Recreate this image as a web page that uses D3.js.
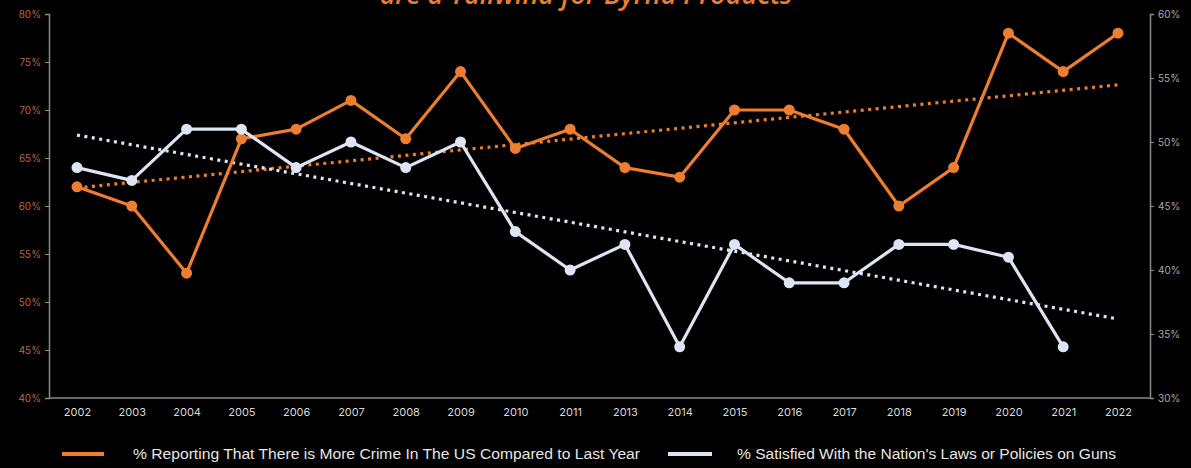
<!DOCTYPE html>
<html><head><meta charset="utf-8">
<script src="https://cdn.jsdelivr.net/npm/d3@7"></script>
<style>
html,body{margin:0;padding:0;background:#000;}
svg{display:block;}
</style></head>
<body>
<svg id="chart" width="1191" height="468"></svg>
<script>
const years = ["2002","2003","2004","2005","2006","2007","2008","2009","2010","2011","2013","2014","2015","2016","2017","2018","2019","2020","2021","2022"];
const crimeMore = [62,60,53,67,68,71,67,74,66,68,64,63,70,70,68,60,64,78,74,78];
const gunSatisfied = [48,47,51,51,48,50,48,50,43,40,42,34,42,39,39,42,42,41,34,null];
const leftTicks = [40,45,50,55,60,65,70,75,80];
const rightTicks = [30,35,40,45,50,55,60];
const titleText = "are a Tailwind for Byrna Products";
const legendCrime = "% Reporting That There is More Crime In The US Compared to Last Year";
const legendGuns = "% Satisfied With the Nation's Laws or Policies on Guns";

const ORANGE = "#ed7d31", WHITE = "#dde4f4";
const svg = d3.select("#chart");
const L = 49, R = 1150, T = 14, B = 398;

const x = d3.scalePoint().domain(years).range([77, 1118]);
const yL = d3.scaleLinear().domain([40,80]).range([B,T]);
const yR = d3.scaleLinear().domain([30,60]).range([B,T]);

// title (clipped at top, as in the reference)
svg.append("text").attr("x", 586).attr("y", 4).attr("text-anchor","middle")
  .attr("font-family","Open Sans, sans-serif").attr("font-style","italic").attr("font-weight","600")
  .attr("font-size",27).attr("fill", ORANGE).text(titleText);

// axes
const axL = svg.append("g").attr("transform",`translate(${L},0)`)
  .call(d3.axisLeft(yL).tickValues(leftTicks).tickFormat(d=>d+"%").tickSizeOuter(0).tickSize(4));
axL.select(".domain").attr("stroke","#8a8a8a").attr("stroke-width",1.5);
axL.selectAll(".tick line").attr("stroke","#8a8a8a");
axL.selectAll(".tick text").attr("fill","#b8683c").attr("font-family","Inter, sans-serif").attr("font-size",10).attr("x",-8);

const axR = svg.append("g").attr("transform",`translate(${R},0)`)
  .call(d3.axisRight(yR).tickValues(rightTicks).tickFormat(d=>d+"%").tickSizeOuter(0).tickSize(4));
axR.select(".domain").attr("stroke","#8a8a8a").attr("stroke-width",1.5);
axR.selectAll(".tick line").attr("stroke","#8a8a8a");
axR.selectAll(".tick text").attr("fill","#a8a8a8").attr("font-family","Inter, sans-serif").attr("font-size",10).attr("x",8);

svg.append("line").attr("x1",L).attr("x2",R).attr("y1",B).attr("y2",B).attr("stroke","#8a8a8a").attr("stroke-width",1.5);

const axB = svg.append("g").attr("transform",`translate(0,${B})`)
  .call(d3.axisBottom(x).tickSize(0).tickPadding(10));
axB.select(".domain").remove();
axB.selectAll(".tick text").attr("fill","#d8d8d8").attr("font-family","Inter, sans-serif").attr("font-size",11);

// trendlines (least squares)
function trend(vals){
  const pts = vals.map((v,i)=>[i,v]).filter(p=>p[1]!=null);
  const mx=d3.mean(pts,p=>p[0]), my=d3.mean(pts,p=>p[1]);
  const sxy=d3.sum(pts,p=>(p[0]-mx)*(p[1]-my)), sxx=d3.sum(pts,p=>(p[0]-mx)**2);
  const b=sxy/sxx, a=my-b*mx;
  return [a, a+b*(vals.length-1)];
}
const tC = trend(crimeMore), tG = trend(gunSatisfied);
svg.append("line").attr("x1",x(years[0])).attr("x2",x(years[years.length-1]))
  .attr("y1",yL(tC[0])).attr("y2",yL(tC[1])).attr("stroke",ORANGE).attr("stroke-width",3.2).attr("stroke-dasharray","3,4.5");
svg.append("line").attr("x1",x(years[0])).attr("x2",x(years[years.length-1]))
  .attr("y1",yR(tG[0])).attr("y2",yR(tG[1])).attr("stroke",WHITE).attr("stroke-width",3.2).attr("stroke-dasharray","3,4.5");

// lines
const lineC = d3.line().x((d,i)=>x(years[i])).y(d=>yL(d));
const lineG = d3.line().defined(d=>d!=null).x((d,i)=>x(years[i])).y(d=>yR(d));
svg.append("path").attr("d",lineC(crimeMore)).attr("fill","none").attr("stroke",ORANGE).attr("stroke-width",3.2).attr("stroke-linejoin","round");
svg.append("path").attr("d",lineG(gunSatisfied)).attr("fill","none").attr("stroke",WHITE).attr("stroke-width",3.2).attr("stroke-linejoin","round");

svg.append("g").selectAll("circle").data(crimeMore).join("circle")
  .attr("cx",(d,i)=>x(years[i])).attr("cy",d=>yL(d)).attr("r",5.5).attr("fill",ORANGE);
svg.append("g").selectAll("circle").data(gunSatisfied.map((v,i)=>({v,i})).filter(d=>d.v!=null)).join("circle")
  .attr("cx",d=>x(years[d.i])).attr("cy",d=>yR(d.v)).attr("r",5.5).attr("fill",WHITE);

// legend
const lg = svg.append("g").attr("font-family","Liberation Sans, Arial, sans-serif").attr("font-size",14).attr("fill","#e6e6e6");
lg.append("line").attr("x1",62).attr("x2",104).attr("y1",454).attr("y2",454).attr("stroke",ORANGE).attr("stroke-width",4);
lg.append("text").attr("x",133).attr("y",459).text(legendCrime).attr("textLength",507).attr("lengthAdjust","spacingAndGlyphs");
lg.append("line").attr("x1",668).attr("x2",712).attr("y1",454).attr("y2",454).attr("stroke",WHITE).attr("stroke-width",4);
lg.append("text").attr("x",737).attr("y",459).text(legendGuns).attr("textLength",379).attr("lengthAdjust","spacingAndGlyphs");
</script>
</body></html>
